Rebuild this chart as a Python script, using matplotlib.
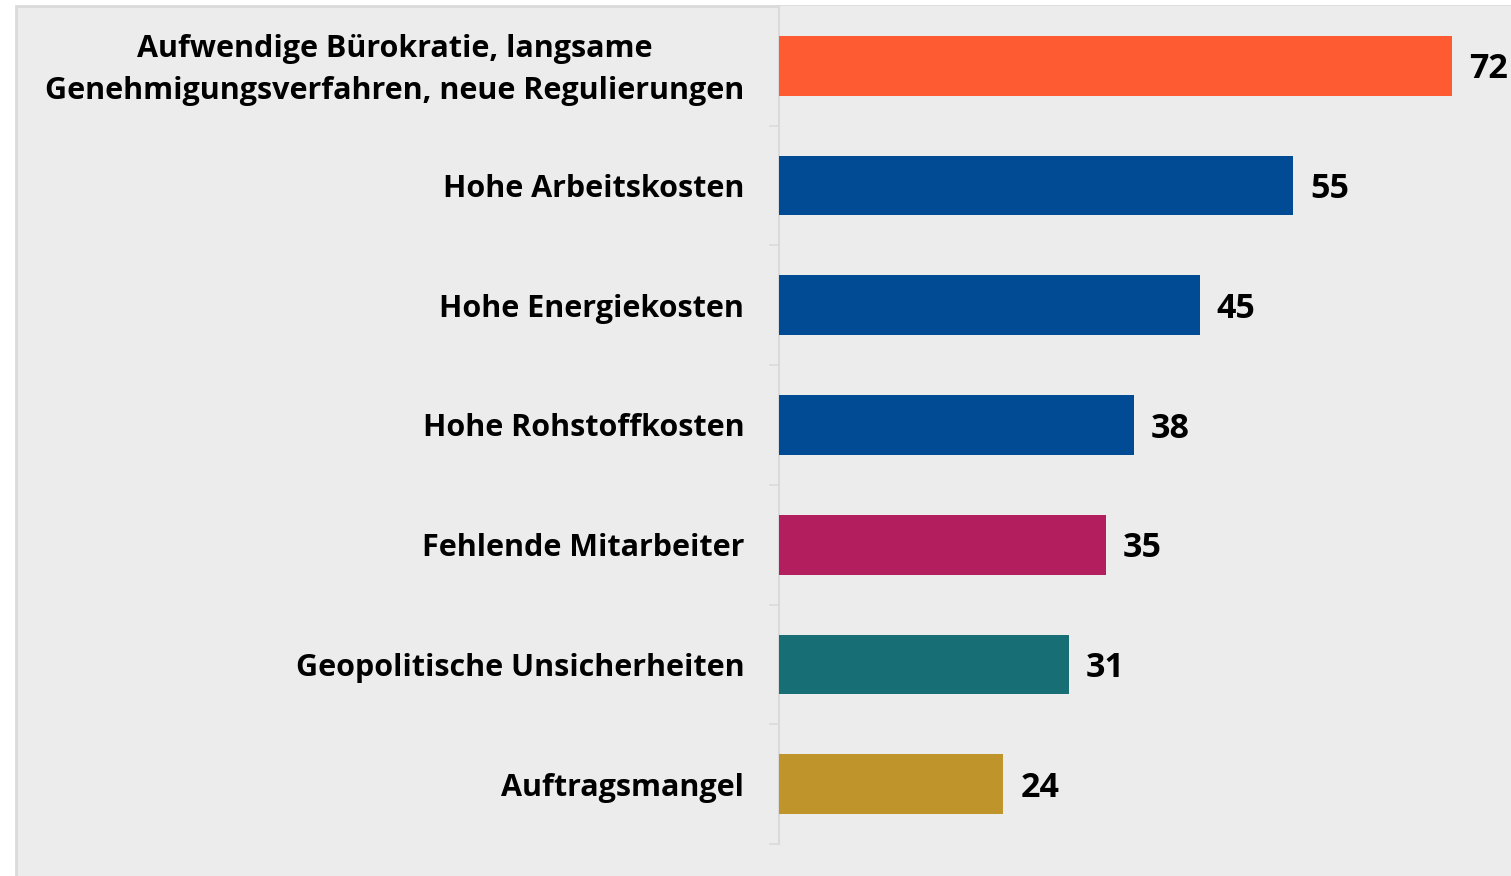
import matplotlib.pyplot as plt
from matplotlib.patches import Rectangle
from matplotlib.ticker import FixedLocator
from matplotlib.transforms import ScaledTranslation

# survey answers, top to bottom
categories = [
    "Aufwendige Bürokratie, langsame\nGenehmigungsverfahren, neue Regulierungen",
    "Hohe Arbeitskosten",
    "Hohe Energiekosten",
    "Hohe Rohstoffkosten",
    "Fehlende Mitarbeiter",
    "Geopolitische Unsicherheiten",
    "Auftragsmangel",
]
values = [72, 55, 45, 38, 35, 31, 24]
bar_colors = ["#FF5B33", "#004B93", "#004B93", "#004B93", "#B31F5E", "#176F75", "#BF942A"]

bg = "#ECECEC"
edge = "#DADADA"

plt.rcParams['font.family'] = ['Open Sans', 'DejaVu Sans']

fig = plt.figure(figsize=(15.11, 8.76), dpi=100)
fig.patch.set_facecolor("white")
# grey panel behind everything
fig.patches.append(Rectangle((16 / 1511, -0.05), 1.1, 1.05 - 6 / 876, transform=fig.transFigure,
                             facecolor=bg, edgecolor=edge, linewidth=2, zorder=-5))

ax = fig.add_axes([779 / 1511, 1 - 844 / 876, 1 - 779 / 1511, (844 - 6) / 876])
ax.set_facecolor(bg)

ypos = list(range(len(categories)))
ax.barh(ypos, values, height=0.5, color=bar_colors, zorder=2)
for y, v in zip(ypos, values):
    ax.text(v + 1.8, y + 0.03, str(v), va="center", ha="left", fontsize=24.5,
            fontweight="bold", color="black")

ax.set_xlim(0, 78.3)
ax.set_ylim(6.5, -0.5)
ax.set_yticks(ypos)
ax.set_yticklabels(categories, fontsize=22, fontweight="bold", multialignment="center",
                   linespacing=1.55)
ax.yaxis.set_minor_locator(FixedLocator([0.5, 1.5, 2.5, 3.5, 4.5, 5.5, 6.5]))
ax.tick_params(axis="y", which="major", length=0, pad=25)
ax.tick_params(axis="y", which="minor", length=7.5, width=1.2, color=edge)
ax.set_xticks([])

# nudge the two-line label up a little
first = ax.get_yticklabels()[0]
first.set_transform(first.get_transform() + ScaledTranslation(0, 4 / 72, fig.dpi_scale_trans))

for s in ["top", "right", "bottom"]:
    ax.spines[s].set_visible(False)
ax.spines["left"].set_color(edge)
ax.spines["left"].set_linewidth(1.5)
ax.spines["left"].set_zorder(1)

fig.savefig("out.png", dpi=100, facecolor=fig.get_facecolor())
